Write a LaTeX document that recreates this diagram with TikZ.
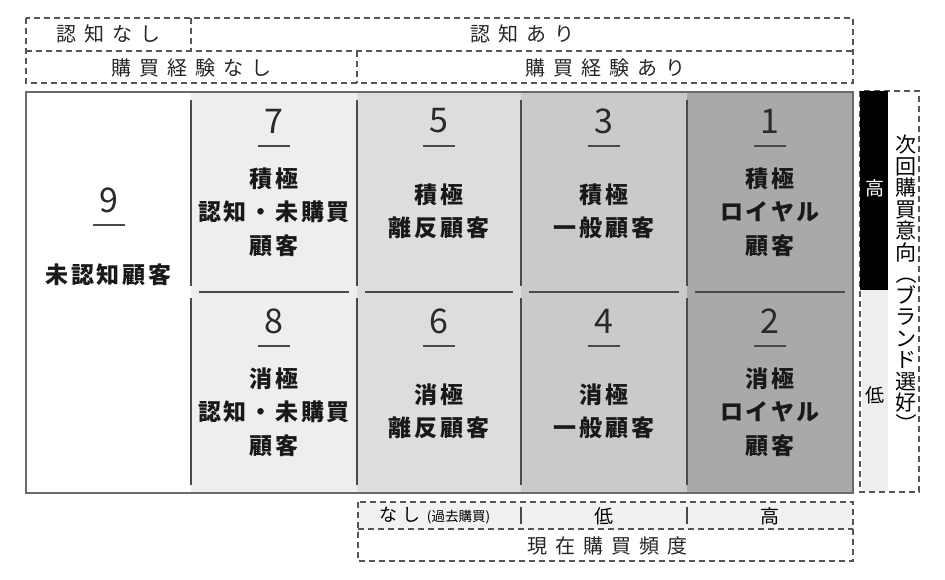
\documentclass[tikz,border=0pt]{standalone}
\usepackage{fontspec}
\usepackage{graphicx}
\setmainfont{Noto Sans CJK JP}
\newfontfamily\hdrfont[LetterSpace=40]{Noto Sans CJK JP}
\newfontfamily\lblfont[LetterSpace=12]{Noto Sans CJK JP}
\newfontfamily\numfont{Noto Sans CJK JP}
\definecolor{cA}{HTML}{EEEEEE}
\definecolor{cB}{HTML}{DCDDDD}
\definecolor{cC}{HTML}{C9CACA}
\definecolor{cD}{HTML}{A9A9A9}
\definecolor{cBot}{HTML}{F1F1F1}
\definecolor{lineC}{HTML}{4A4A4A}
\definecolor{boxC}{HTML}{6A6A6A}
\definecolor{dashC}{HTML}{555555}
\definecolor{numC}{HTML}{2A2A2A}
\tikzset{
  dashbox/.style={draw=dashC, line width=1.1pt, dash pattern=on 6pt off 4pt},
  divline/.style={draw=lineC, line width=1.3pt},
  uline/.style={draw=lineC, line width=1.1pt},
  hdr/.style={inner sep=0pt, font=\fontsize{20}{20}\hdrfont, text=black!85},
  num/.style={inner sep=0pt, font=\fontsize{34}{34}\numfont, text=numC},
  lbl/.style={inner sep=0pt, align=center, font=\fontsize{23}{33.5}\lblfont\bfseries, text=black!90},
  side/.style={inner sep=0pt, font=\fontsize{19}{19}\selectfont},
}
\begin{document}
\begin{tikzpicture}[x=1pt,y=-1pt]
\useasboundingbox (0,0) rectangle (945,580);
% header
\draw[dashbox] (26,18) rectangle (853,83);
\draw[dashbox] (26,51) -- (853,51);
\draw[dashbox] (191,18) -- (191,51);
\draw[dashbox] (357,51) -- (357,83);
\node[hdr] (h1) at (108.5,34) {認知なし};
\node[hdr] (h2) at (522,34) {認知あり};
\node[hdr] (h3) at (191,68) {購買経験なし};
\node[hdr] (h4) at (605,68) {購買経験あり};
% column fills
\fill[cA] (191,92) rectangle (357,493);
\fill[cB] (357,92) rectangle (521,493);
\fill[cC] (521,92) rectangle (687,493);
\fill[cD] (687,92) rectangle (853,493);
\draw[boxC, line width=1.6pt] (26,92) rectangle (853,493);
\foreach \x in {191,357,521,687} {
  \draw[divline] (\x,100) -- (\x,286);
  \draw[divline] (\x,298) -- (\x,485);
}
\foreach \l/\r in {191/357,357/521,521/687,687/853} {
  \draw[divline] (\l+8,292) -- (\r-8,292);
}
% numbers
\foreach \n/\x/\y in {9/108.5/200, 7/274/121, 5/439/121, 3/604/121, 1/770/121,
                      8/274/321, 6/439/321, 4/604/321, 2/770/321} {
  \node[num] (n\n) at (\x,\y) {\n};
  \draw[uline] (\x-16,\y+25) -- (\x+16,\y+25);
}
% labels
\node[lbl] (t9) at (108.5,275) {未認知顧客};
\node[lbl] (t7) at (274,212) {積極\\認知・未購買\\顧客};
\node[lbl] (t5) at (439,211.5) {積極\\離反顧客};
\node[lbl] (t3) at (604,211.5) {積極\\一般顧客};
\node[lbl] (t1) at (770,212) {積極\\ロイヤル\\顧客};
\node[lbl] (t8) at (274,412) {消極\\認知・未購買\\顧客};
\node[lbl] (t6) at (439,411.5) {消極\\離反顧客};
\node[lbl] (t4) at (604,411.5) {消極\\一般顧客};
\node[lbl] (t2) at (770,412) {消極\\ロイヤル\\顧客};
% bottom
\fill[cBot] (358,502) rectangle (853,529);
\draw[dashbox] (358,502) rectangle (853,561);
\draw[dashbox] (358,529) -- (853,529);
\draw[divline] (521,507) -- (521,524);
\draw[divline] (687,507) -- (687,524);
\node[side] (b1) at (435,516) {{\fontsize{18}{18}\selectfont な\hspace{5pt}し}\hspace{6pt}{\fontsize{13.5}{13.5}\selectfont (過去購買)}};
\node[side] (b2) at (604,516) {低};
\node[side] (b3) at (770,516) {高};
\node[hdr] (b4) at (607,546) {現在購買頻度};
% right side
\draw[dashbox] (860,91) rectangle (919,492);
\fill[black] (860,91) rectangle (888,290);
\fill[cA] (861.5,290) rectangle (888,491);
\node[side, text=white] (r1) at (874.5,188) {高};
\node[side] (r2) at (875,395) {低};
\node[inner sep=0pt, align=center, font=\fontsize{21}{21.5}\selectfont] (r3) at (906,285)
  {次\\回\\購\\買\\意\\向\\\rotatebox[origin=c]{-90}{（}\\ブ\\ラ\\ン\\ド\\選\\好\\\rotatebox[origin=c]{-90}{）}};
\end{tikzpicture}
\end{document}
